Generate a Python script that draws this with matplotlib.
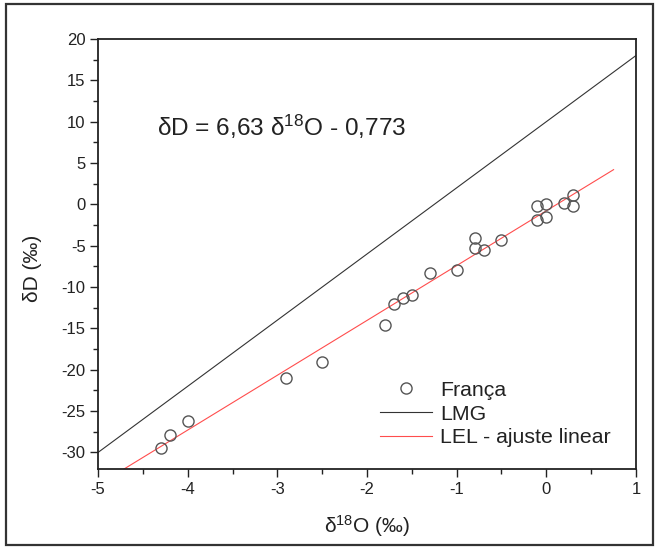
import numpy as np
import matplotlib
matplotlib.use("Agg")
import matplotlib.pyplot as plt
from matplotlib.patches import Rectangle
from matplotlib.ticker import MultipleLocator

plt.rcParams['font.family'] = ['Liberation Sans', 'DejaVu Sans']
plt.rcParams['mathtext.fontset'] = 'custom'
plt.rcParams['mathtext.rm'] = 'Liberation Sans'
plt.rcParams['mathtext.it'] = 'Liberation Sans:italic'
plt.rcParams['axes.unicode_minus'] = False

# Isotope measurements (França)
d18O = [-4.3, -4.2, -4.0, -2.9, -2.5, -1.8, -1.7, -1.6, -1.5, -1.3, -1.0,
        -0.8, -0.8, -0.7, -0.5, -0.1, -0.1, 0.0, 0.0, 0.2, 0.3, 0.3]
dD = [-29.4, -27.9, -26.2, -21.0, -19.0, -14.6, -12.0, -11.3, -11.0, -8.3, -7.9,
      -4.1, -5.3, -5.5, -4.3, -0.2, -1.9, 0.1, -1.5, 0.2, 1.1, -0.2]

# Global meteoric water line and local evaporation line
lmg_slope, lmg_intercept = 8.0, 10.0
lel_slope, lel_intercept = 6.63, -0.773
lmg_x = [-5.0, 1.0]
lel_x = [-4.8, 0.75]

fig = plt.figure(figsize=(6.56, 5.49), dpi=100)
ax = fig.add_axes([0.1494, 0.1457, 0.8201, 0.7833])

txt_color = '#222222'

lx = np.array(lmg_x)
ax.plot(lx, lmg_slope * lx + lmg_intercept, color='#333333', lw=0.8, label='LMG', zorder=2)
ex = np.array(lel_x)
ax.plot(ex, lel_slope * ex + lel_intercept, color='#ff4d4d', lw=0.8,
        label='LEL - ajuste linear', zorder=2)
ax.plot(d18O, dD, linestyle='none', marker='o', markersize=8,
        markerfacecolor='none', markeredgecolor='#555555', markeredgewidth=1.0,
        label='França', zorder=3)

ax.set_xlim(-5, 1)
ax.set_ylim(-32, 20)
ax.xaxis.set_major_locator(MultipleLocator(1))
ax.xaxis.set_minor_locator(MultipleLocator(0.5))
ax.yaxis.set_major_locator(MultipleLocator(5))
ax.yaxis.set_minor_locator(MultipleLocator(2.5))
ax.tick_params(which='both', direction='out', top=False, right=False,
               width=1.0, colors='#222222', labelsize=12, labelcolor=txt_color)
ax.tick_params(which='major', length=6, pad=3)
ax.tick_params(which='minor', length=3.3)
for s in ax.spines.values():
    s.set_linewidth(1.3)
    s.set_color('#222222')

ax.set_xlabel('δ$^{\\mathrm{18}}$O (‰)', fontsize=15, color=txt_color)
ax.set_ylabel('δD (‰)', fontsize=15, color=txt_color)
ax.xaxis.set_label_coords(0.501, -0.102)
ax.yaxis.set_label_coords(-0.104, 0.467)

ax.text(-4.342, 9.35, 'δD = 6,63 δ$^{\\mathrm{18}}$O - 0,773', fontsize=17.6,
        color=txt_color, va='center', ha='left')

handles, labels = ax.get_legend_handles_labels()
order = [2, 0, 1]
leg = ax.legend([handles[i] for i in order], [labels[i] for i in order],
                loc='upper left', bbox_to_anchor=(0.524, 0.205), frameon=False,
                fontsize=15.3, handlelength=2.45, handletextpad=0.4,
                labelspacing=0.22, borderpad=0, borderaxespad=0)
for t in leg.get_texts():
    t.set_color(txt_color)

# Outer frame around the whole figure
fig.patches.append(Rectangle((6 / 656, 4 / 549), 647 / 656, 541 / 549,
                             transform=fig.transFigure, fill=False,
                             edgecolor='#333333', linewidth=1.6))

fig.savefig('out.png', dpi=100)
